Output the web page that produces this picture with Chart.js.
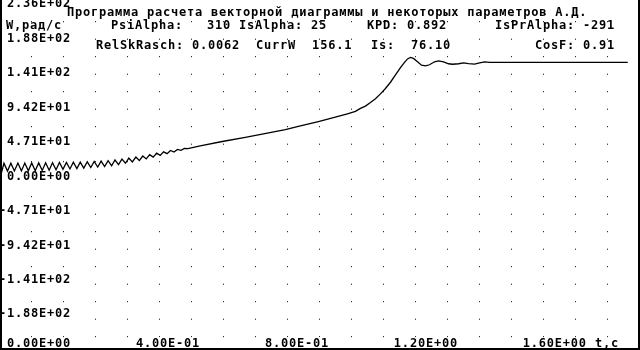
<!DOCTYPE html>
<html>
<head>
<meta charset="utf-8">
<script src="https://cdn.jsdelivr.net/npm/chart.js@4.4.0/dist/chart.umd.min.js"></script>
<style>
  html, body { margin: 0; padding: 0; background: #fff; }
  #wrap { position: relative; width: 640px; height: 350px; overflow: hidden; }
  #wrap canvas { display: block; }
  #frame { position: absolute; left: 0; top: 0; width: 636px; height: 348px;
           border-left: 2px solid #000; border-right: 2px solid #000; border-bottom: 2px solid #000;
           pointer-events: none; }
  .t { position: absolute; font: bold 12px "DejaVu Sans Mono", monospace; letter-spacing: 0.78px;
       line-height: 10px; white-space: pre; color: #000; }
</style>
</head>
<body>
<div id="wrap">
  <canvas id="chart" width="640" height="350"></canvas>
  <div id="frame"></div>
  <div class="t" style="left:67px;top:7px">Программа расчета векторной диаграммы и некоторых параметров А.Д.</div>
  <div class="t" style="left:6px;top:20px">W,рад/с</div>
  <div class="t" style="left:111px;top:20px">PsiAlpha:   310 IsAlpha: 25</div>
  <div class="t" style="left:367px;top:20px">KPD: 0.892</div>
  <div class="t" style="left:495px;top:20px">IsPrAlpha: -291</div>
  <div class="t" style="left:96px;top:40px">RelSkRasch: 0.0062  CurrW  156.1</div>
  <div class="t" style="left:371px;top:40px">Is:  76.10</div>
  <div class="t" style="left:535px;top:40px">CosF: 0.91</div>
</div>
<script>
// время, с
const timeS = [
  0.000, 0.0093, 0.0202, 0.0307, 0.0416, 0.0525, 0.0634, 0.0739, 0.0848, 0.0953,
  0.1062, 0.1171, 0.1280, 0.1385, 0.1494, 0.1599, 0.1708, 0.1814, 0.1922, 0.2031,
  0.2140, 0.2245, 0.2354, 0.2460, 0.2568, 0.2677, 0.2786, 0.2891, 0.3000, 0.3106,
  0.3214, 0.3323, 0.3432, 0.3537, 0.3646, 0.3752, 0.3860, 0.3966, 0.4075, 0.4183,
  0.4292, 0.4398, 0.4506, 0.4612, 0.4720, 0.4829, 0.4938, 0.5043, 0.5152, 0.5258,
  0.5366, 0.5475, 0.5584, 0.5689, 0.5798, 0.6180,
  0.6863, 0.7578, 0.8261, 0.8820, 0.9286, 0.9845, 1.0311, 1.0745, 1.0994, 1.1149,
  1.1304, 1.1460, 1.1615, 1.1770, 1.1925, 1.2081, 1.2236, 1.2391, 1.2516, 1.2609,
  1.2702, 1.2795, 1.2919, 1.3043, 1.3168, 1.3292, 1.3447, 1.3571, 1.3727, 1.3882,
  1.4006, 1.4193, 1.4348, 1.4503, 1.4689, 1.4845, 1.5000, 1.5155, 1.5342, 1.9441
];
// скорость W, рад/с
const speedW = [
  0.5, 16.3, 5.5, 16.4, 5.6, 16.5, 5.7, 16.6, 5.8, 16.7,
  5.9, 16.8, 6.2, 16.9, 6.7, 17.1, 7.3, 17.3, 7.8, 17.5,
  8.4, 17.7, 8.9, 17.8, 9.6, 18.3, 10.3, 18.8, 11.0, 19.3,
  11.7, 19.8, 12.7, 20.8, 14.5, 22.1, 16.3, 23.5, 18.1, 24.8,
  20.0, 26.3, 22.3, 28.2, 24.8, 30.2, 27.2, 32.1, 29.6, 34.0,
  31.9, 35.5, 34.2, 36.9, 36.5, 40.4,
  46.4, 52.2, 57.9, 62.7, 68.0, 74.0, 79.4, 84.8, 88.1, 92.2,
  95.5, 100.3, 105.6, 112.4, 119.8, 128.5, 138.6, 148.7, 156.1, 160.8,
  162.8, 161.5, 156.8, 152.1, 151.1, 152.7, 156.8, 158.1, 156.8, 154.1,
  153.4, 154.1, 155.4, 154.4, 153.7, 155.4, 156.8, 155.9, 156.1, 156.1
];

const xTickValues = [0, 0.4, 0.8, 1.2, 1.6];
const xTickLabels = ['0.00E+00', '4.00E-01', '8.00E-01', '1.20E+00', '1.60E+00 t,c'];
const yTickValues = [235.5, 188.4, 141.3, 94.2, 47.1, 0, -47.1, -94.2, -141.3, -188.4];
const yTickLabels = ['2.36E+02', '1.88E+02', '1.41E+02', '9.42E+01', '4.71E+01', '0.00E+00',
                     '-4.71E+01', '-9.42E+01', '-1.41E+02', '-1.88E+02'];
const dotSteps = [1, 2, 3, 4, 5, 6, 7, 8, 9, 10, 11, 12, 13, 14, 15, 16, 17, 18, 19];

const dosFont = { family: 'DejaVu Sans Mono', size: 12, weight: 'bold', lineHeight: 1 };

const spacing = {
  id: 'spacing',
  beforeUpdate(chart) { chart.ctx.letterSpacing = '0.78px'; }
};

const ctx = document.getElementById('chart').getContext('2d');
new Chart(ctx, {
  type: 'line',
  data: {
    datasets: [{
      data: timeS.map((t, i) => ({ x: t, y: speedW[i] })),
      borderColor: '#000',
      borderWidth: 1.3,
      pointRadius: 0,
      tension: 0
    }]
  },
  options: {
    responsive: false,
    animation: false,
    events: [],
    layout: { padding: 0 },
    plugins: { legend: { display: false }, tooltip: { enabled: false } },
    scales: {
      x: {
        type: 'linear', position: 'bottom', min: -0.003, max: 1.982,
        afterBuildTicks: s => { s.ticks = xTickValues.map(v => ({ value: v })); },
        afterFit: s => { s.height = 0; },
        grid: { display: false, drawTicks: false },
        border: { display: false },
        ticks: {
          autoSkip: false, maxRotation: 0, align: 'start', mirror: true, labelOffset: 6, padding: -4.6,
          callback: v => xTickLabels[xTickValues.indexOf(v)],
          font: dosFont, color: '#000',
          showLabelBackdrop: true, backdropColor: '#fff', backdropPadding: 0
        }
      },
      y: {
        type: 'linear', position: 'left', min: -235.5, max: 235.5,
        afterFit: s => { s.width = 0; },
        ticks: { display: false },
        grid: { display: false, drawTicks: false },
        border: { display: false }
      },
      // подписи оси W (в оригинале шаг подписей чуть крупнее шага сетки)
      yl: {
        type: 'linear', position: 'left', min: -228.9, max: 235.5,
        afterBuildTicks: s => { s.ticks = yTickValues.map(v => ({ value: v })); },
        afterFit: s => { s.width = 0; },
        grid: { display: false, drawTicks: false },
        border: { display: false },
        ticks: {
          autoSkip: false, mirror: true, crossAlign: 'far', padding: -1, labelOffset: -1,
          callback: v => yTickLabels[yTickValues.indexOf(v)],
          font: dosFont, color: '#000',
          showLabelBackdrop: true, backdropColor: '#fff', backdropPadding: 0
        }
      },
      gx: {
        type: 'linear', position: 'top', min: 1 / 32, max: 20 + 1 / 32,
        afterBuildTicks: s => { s.ticks = dotSteps.map(v => ({ value: v })); },
        afterFit: s => { s.height = 0; },
        ticks: { display: false },
        grid: { color: '#000', lineWidth: 1, drawTicks: false, z: -1 },
        border: { display: false, dash: [1, 16.5], dashOffset: 1.3 }
      }
    }
  },
  plugins: [spacing]
});
</script>
</body>
</html>
